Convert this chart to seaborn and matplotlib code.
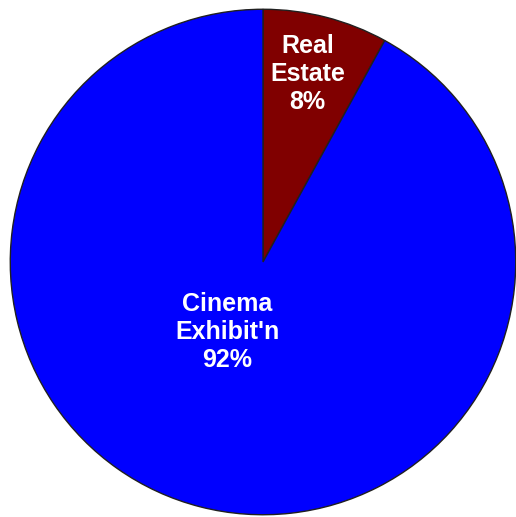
import matplotlib
matplotlib.use("Agg")
import matplotlib.pyplot as plt
import seaborn as sns
import numpy as np

# 데이터
labels = ["Real\nEstate", "Cinema\nExhibit'n"]
shares = [8, 92]
colors = ["#800000", "#0000FF"]
# 라벨 위치 (각도 , 반지름 비율)
label_pos = [(76.6, 0.765), (-117.0, 0.31)]

sns.set_style("white")
plt.rcParams["font.family"] = ["Liberation Sans", "DejaVu Sans"]

fig = plt.figure(figsize=(5.16, 5.17), dpi=100)
ax = fig.add_axes([9 / 516, 1 / 517, 508 / 516, 508 / 517])

wedges, _ = ax.pie(shares, colors=colors, startangle=90, counterclock=False,
                   radius=1, wedgeprops={"edgecolor": "#202020", "linewidth": 1})

for lab, val, (ang, r) in zip(labels, shares, label_pos):
    t = np.deg2rad(ang)
    ax.text(r * np.cos(t), r * np.sin(t), f"{lab}\n{val}%", ha="center", va="center",
            color="white", fontsize=18, fontweight="bold", linespacing=1.22)

ax.set_xlim(-1.005, 1.005)
ax.set_ylim(-1.005, 1.005)
ax.set_aspect("equal")
ax.axis("off")

fig.savefig("out.png", dpi=100)
